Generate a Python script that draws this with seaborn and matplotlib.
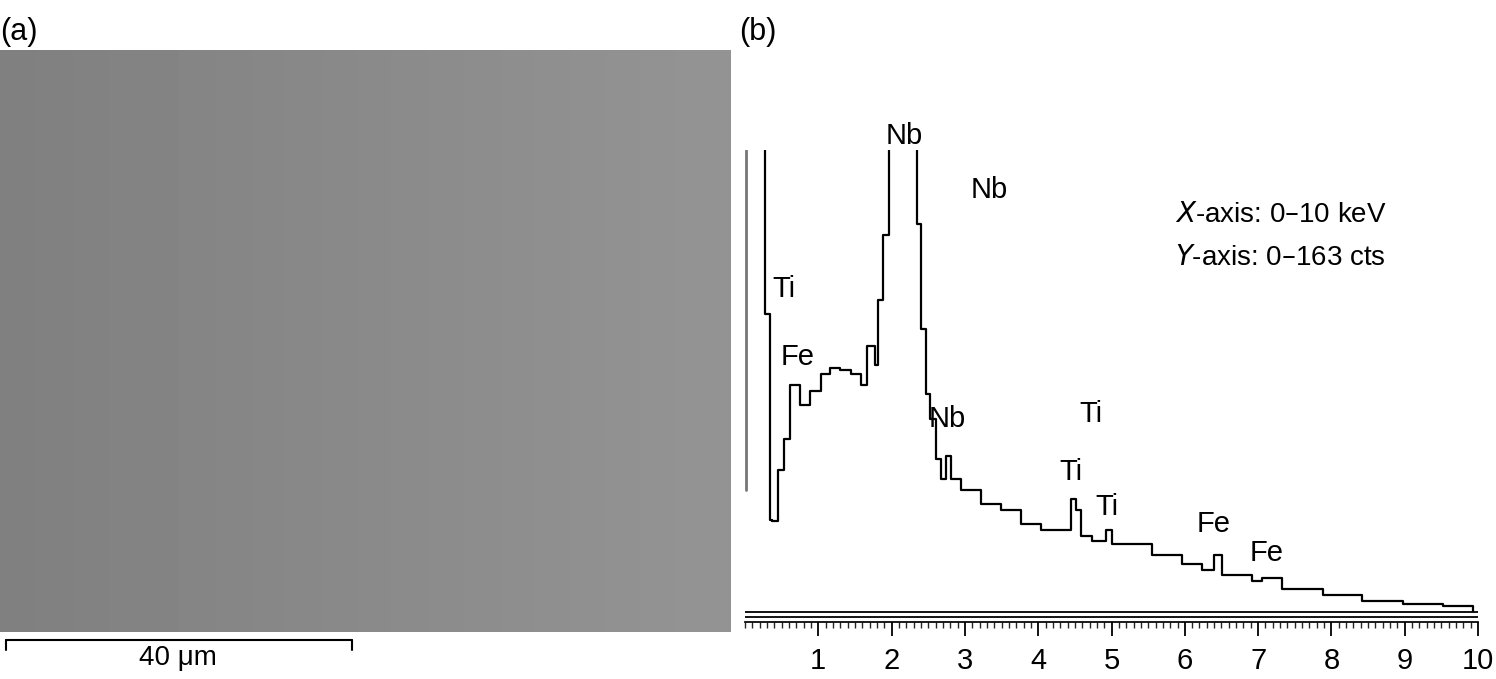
import numpy as np
import matplotlib
matplotlib.use("Agg")
import matplotlib.pyplot as plt
import seaborn as sns

sns.set_theme(style="white")
plt.rcParams['font.family'] = ['Liberation Sans', 'DejaVu Sans']
plt.rcParams['text.color'] = 'black'

# EDS spectrum (keV, counts)
energy = [0.16, 0.27, 0.34, 0.37, 0.45, 0.53, 0.62, 0.75, 0.89, 1.03, 1.16, 1.30, 1.44, 1.58,
          1.66, 1.78, 1.82, 1.88, 1.96, 2.34, 2.40, 2.47, 2.53, 2.60, 2.67, 2.74, 2.81, 2.95,
          3.22, 3.49, 3.77, 4.04, 4.32, 4.45, 4.52, 4.59, 4.73, 4.93, 5.00, 5.55, 5.96, 6.23,
          6.40, 6.51, 6.92, 7.05, 7.33, 7.88, 8.42, 8.97, 9.52, 9.93]
counts = [200, 105, 32.5, 32, 50, 61, 80, 73, 78, 84, 86, 85.5, 84, 80,
          94, 87, 110, 133, 200, 137, 100, 77, 68, 54, 47, 55, 47, 43,
          38, 36, 31, 29, 29, 40, 36, 27, 25, 29, 24, 20, 17, 15,
          20, 13, 11, 12, 8, 6, 4, 3, 2, 0.4]
spur_x = [0.01, 0.01]
spur_y = [163, 43]

labels = ["Nb", "Nb", "Ti", "Fe", "Nb", "Ti", "Ti", "Ti", "Fe", "Fe"]
label_x = [1.92, 3.08, 0.37, 0.48, 2.5, 4.56, 4.29, 4.78, 6.16, 6.89]
label_y = [168, 149, 114, 90, 68, 70, 49.5, 37, 31, 21]

fig = plt.figure(figsize=(14.96, 6.79), dpi=100)

# (a) micrograph placeholder
axa = fig.add_axes([0.0, 0.069, 0.488, 0.857])
img = np.tile(np.linspace(0.50, 0.58, 200), (150, 1))
axa.imshow(img, cmap="gray", vmin=0, vmax=1, aspect="auto")
axa.set_axis_off()
fig.text(0.0, 0.975, "(a)", fontsize=22, va="top")
fig.text(0.494, 0.975, "(b)", fontsize=22, va="top")
fig.add_artist(plt.Line2D([0.004, 0.235], [0.057, 0.057], color="black", lw=1.5))
for xx in (0.004, 0.235):
    fig.add_artist(plt.Line2D([xx, xx], [0.057, 0.043], color="black", lw=1.5))
fig.text(0.119, 0.02, "40 μm", fontsize=20, ha="center")

# (b) spectrum
ax = fig.add_axes([0.498, 0.084, 0.49, 0.695])
sns.lineplot(x=energy, y=counts, drawstyle="steps-post", color="black", lw=1.6, ax=ax)
ax.plot(spur_x, spur_y, color="#777777", lw=2)
ax.axhline(0, color="black", lw=1.3)
ax.axhline(-1.6, color="black", lw=1.3)
ax.set_xlim(0, 10)
ax.set_ylim(-3.5, 163)
for s in ("top", "left", "right"):
    ax.spines[s].set_visible(False)
ax.spines["bottom"].set_color("black")
ax.set_yticks([])
ax.set_xticks(range(1, 11))
ax.set_xticks(np.arange(0, 10.01, 0.1), minor=True)
ax.tick_params(axis="x", which="major", direction="out", length=10, width=1.3,
               labelsize=21, bottom=True, colors="black", pad=8)
ax.tick_params(axis="x", which="minor", direction="out", length=4, width=1, bottom=True)
for t, x, y in zip(labels, label_x, label_y):
    ax.text(x, y, t, fontsize=21, ha="left", va="center", clip_on=False)
ax.text(5.86, 140, "$\\it{X}$-axis: 0–10 keV", fontsize=20, va="center")
ax.text(5.86, 125, "$\\it{Y}$-axis: 0–163 cts", fontsize=20, va="center")

fig.savefig("out.png", dpi=100)
